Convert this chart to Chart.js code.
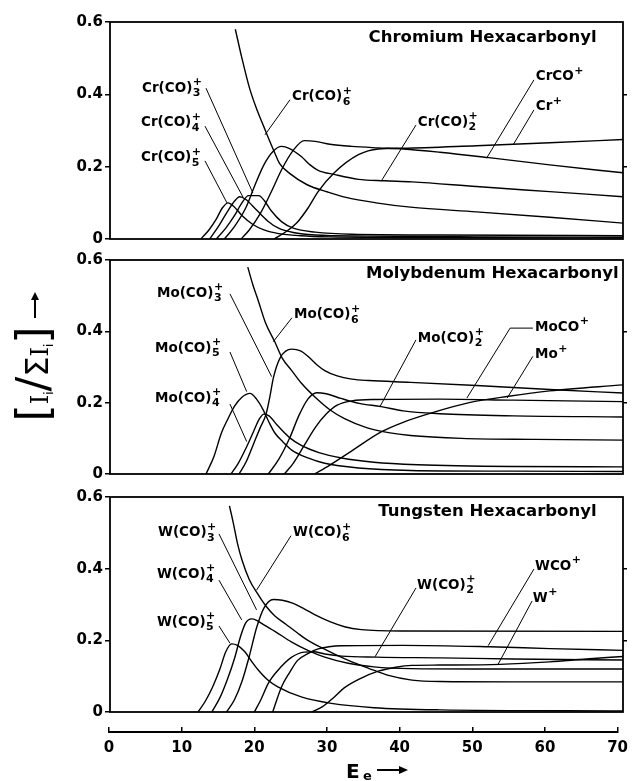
<!DOCTYPE html>
<html>
<head>
<meta charset="utf-8">
<script src="https://cdn.jsdelivr.net/npm/chart.js@4.4.1/dist/chart.umd.min.js"></script>
<style>
  html, body { margin: 0; padding: 0; background: #fff; }
  #wrap { position: relative; width: 635px; height: 781px; }
  #wrap canvas { position: absolute; left: 0; top: 0; }
</style>
</head>
<body>
<div id="wrap">
  <canvas id="cr" width="635" height="781"></canvas>
  <canvas id="mo" width="635" height="781"></canvas>
  <canvas id="w" width="635" height="781"></canvas>
  <canvas id="axis" width="635" height="781"></canvas>
</div>
<script>
// ion fraction I_i / sum(I_i) vs electron energy, [E, fraction] pairs
const xTicks = [0, 10, 20, 30, 40, 50, 60, 70];
const yTicks = [0, 0.2, 0.4, 0.6];

// Chromium
const cr6 = [[17.1,0.58],[18,0.50],[19,0.42],[20,0.36],[21,0.31],[21.6,0.28],[22.5,0.237],[23.1,0.21],[24.6,0.18],[26.9,0.15],[29.7,0.13],[32.2,0.115],[36.3,0.10],[41,0.088],[50,0.075],[60,0.06],[70,0.044]];
const cr5 = [[12.4,0],[13.5,0.025],[14.5,0.055],[15.3,0.085],[16.1,0.10],[16.9,0.09],[18,0.065],[19.5,0.04],[21,0.025],[23,0.015],[26,0.009],[30,0.006],[45,0.004],[70,0.003]];
const cr4 = [[13.6,0],[14.8,0.035],[16,0.075],[17,0.105],[17.7,0.117],[18.5,0.11],[20,0.08],[21.5,0.05],[23,0.03],[25,0.018],[28,0.011],[35,0.008],[50,0.006],[70,0.005]];
const cr3 = [[14.5,0],[15.8,0.03],[17,0.065],[18,0.1],[18.9,0.12],[20.3,0.12],[21.1,0.105],[22,0.078],[23.4,0.048],[25,0.03],[28,0.019],[33,0.013],[45,0.011],[70,0.009]];
const cr2 = [[15.6,0],[17,0.035],[18.5,0.085],[19.8,0.15],[21,0.205],[22.3,0.243],[23.4,0.256],[24.5,0.25],[26.1,0.228],[27.3,0.205],[28.4,0.19],[30.7,0.178],[33.9,0.165],[37.5,0.161],[41.2,0.158],[50,0.145],[60,0.131],[70,0.117]];
const crCO = [[17.9,0],[19,0.025],[20.5,0.07],[22,0.13],[23.5,0.195],[25,0.245],[26.5,0.272],[28,0.27],[30,0.262],[33,0.256],[36.6,0.252],[40,0.249],[45,0.24],[51.7,0.225],[60,0.205],[70,0.183]];
const crM = [[22.4,0],[24,0.02],[25.5,0.045],[27,0.085],[28.4,0.131],[30.6,0.183],[33.9,0.233],[36.6,0.249],[40,0.251],[50,0.258],[60,0.266],[70,0.275]];

// Molybdenum
const mo6 = [[18.8,0.58],[19.5,0.53],[20.2,0.488],[21.2,0.425],[22.5,0.37],[23.5,0.325],[24.8,0.29],[26.1,0.255],[28,0.215],[30,0.18],[32,0.155],[35,0.13],[38,0.116],[41,0.108],[48,0.1],[58,0.097],[70,0.095]];
const mo5 = [[13.1,0],[14.2,0.05],[15.2,0.115],[16.1,0.155],[17,0.19],[18,0.215],[19.1,0.226],[20,0.21],[20.9,0.18],[21.7,0.145],[22.5,0.115],[23.6,0.09],[24.8,0.067],[27,0.045],[29.3,0.03],[33.9,0.017],[41,0.01],[55,0.008],[70,0.007]];
const mo4 = [[16.5,0],[17.5,0.03],[18.5,0.07],[19.5,0.115],[20.4,0.155],[21,0.168],[21.7,0.163],[22.9,0.135],[24.5,0.102],[26.1,0.08],[28.5,0.06],[31.6,0.045],[36,0.033],[42,0.026],[55,0.021],[70,0.02]];
const mo3 = [[17.6,0],[18.6,0.035],[19.6,0.085],[20.5,0.13],[21.3,0.168],[21.8,0.215],[22.3,0.27],[23.2,0.325],[24.8,0.35],[26,0.345],[27,0.33],[28.3,0.305],[29.3,0.29],[31,0.275],[33,0.266],[35.3,0.262],[41,0.257],[50,0.248],[60,0.237],[70,0.227]];
const mo2 = [[21.6,0],[23,0.04],[24.5,0.1],[25.8,0.165],[27,0.21],[28.2,0.228],[29.5,0.225],[31.5,0.212],[34,0.198],[37,0.189],[40,0.177],[45,0.169],[55,0.163],[70,0.16]];
const moCO = [[23.8,0],[25,0.03],[26.5,0.08],[28,0.13],[29.5,0.168],[31,0.193],[33,0.205],[36,0.209],[45,0.21],[55,0.207],[70,0.203]];
const moM = [[27.9,0],[30,0.025],[33,0.065],[37,0.118],[40,0.145],[44,0.172],[49,0.2],[54.4,0.218],[60,0.233],[70,0.25]];

// Tungsten
const w6 = [[16.3,0.575],[16.8,0.53],[17.4,0.47],[18,0.425],[19,0.37],[20.2,0.328],[21.3,0.295],[22.5,0.268],[24,0.245],[25.5,0.222],[27,0.2],[29,0.178],[31,0.158],[33,0.14],[35.3,0.122],[38,0.102],[41.2,0.089],[45,0.085],[55,0.084],[70,0.084]];
const w5 = [[12,0],[13,0.03],[14,0.07],[15,0.12],[15.8,0.168],[16.6,0.19],[17.4,0.186],[18.4,0.168],[19.3,0.142],[20.2,0.118],[21.5,0.09],[22.9,0.07],[26.1,0.042],[30.2,0.024],[36,0.012],[45,0.006],[70,0.003]];
const w4 = [[13.9,0],[15,0.04],[16,0.09],[17,0.15],[17.8,0.21],[18.5,0.248],[19.3,0.26],[20,0.256],[21,0.243],[22.5,0.225],[24.8,0.195],[27,0.172],[29.3,0.153],[32.5,0.136],[36,0.126],[41,0.121],[50,0.12],[70,0.12]];
const w3 = [[15.9,0],[17,0.035],[18,0.085],[19,0.155],[20,0.235],[21,0.29],[22.3,0.314],[23.5,0.312],[25,0.303],[26.5,0.288],[28,0.271],[30,0.252],[32,0.238],[34.3,0.23],[40,0.226],[70,0.225]];
const w2 = [[19.7,0],[20.6,0.035],[21.6,0.08],[22.9,0.116],[24.8,0.153],[26.5,0.167],[27.8,0.168],[29.3,0.162],[31.6,0.156],[36.4,0.153],[45,0.151],[55,0.148],[70,0.145]];
const wCO = [[22.2,0],[23.4,0.07],[24.5,0.11],[25.6,0.144],[27,0.163],[28.4,0.176],[31.6,0.185],[40,0.186],[51.8,0.182],[60,0.177],[70,0.172]];
const wM = [[27.5,0],[29,0.015],[30.5,0.04],[32,0.068],[34,0.092],[36.6,0.114],[39,0.125],[41.2,0.13],[45,0.131],[53.2,0.133],[60,0.14],[65,0.148],[70,0.155]];

// ion labels: text anchor and leader line, in data units
const crLabels = [
  { main: 'Cr(CO)', sub: '3', sup: '+', at: [4.37, 0.417], lead: [[13.1, 0.417], [19.5, 0.127]] },
  { main: 'Cr(CO)', sub: '4', sup: '+', at: [4.23, 0.321], lead: [[12.96, 0.312], [18.15, 0.116]] },
  { main: 'Cr(CO)', sub: '5', sup: '+', at: [4.23, 0.224], lead: [[12.96, 0.216], [15.96, 0.10]] },
  { main: 'Cr(CO)', sub: '6', sup: '+', at: [24.83, 0.393], lead: [[24.56, 0.385], [21.15, 0.288]] },
  { main: 'Cr(CO)', sub: '2', sup: '+', at: [42.0, 0.323], lead: [[41.75, 0.315], [37.1, 0.163]] },
  { main: 'CrCO', sup: '+', at: [58.1, 0.448], lead: [[57.85, 0.44], [51.4, 0.224]] },
  { main: 'Cr', sup: '+', at: [58.1, 0.365], lead: [[57.85, 0.357], [55.0, 0.26]] }
];
const moLabels = [
  { main: 'Mo(CO)', sub: '3', sup: '+', at: [6.41, 0.507], lead: [[16.37, 0.505], [22.06, 0.273]] },
  { main: 'Mo(CO)', sub: '5', sup: '+', at: [6.14, 0.353], lead: [[16.37, 0.342], [18.65, 0.231]] },
  { main: 'Mo(CO)', sub: '4', sup: '+', at: [6.14, 0.213], lead: [[16.37, 0.196], [18.65, 0.091]] },
  { main: 'Mo(CO)', sub: '6', sup: '+', at: [25.1, 0.446], lead: [[24.83, 0.438], [22.28, 0.371]] },
  { main: 'Mo(CO)', sub: '2', sup: '+', at: [42.0, 0.381], lead: [[41.75, 0.376], [36.84, 0.189]] },
  { main: 'MoCO', sup: '+', at: [58.0, 0.412], lead: [[57.7, 0.409], [54.6, 0.409], [48.7, 0.213]] },
  { main: 'Mo', sup: '+', at: [58.0, 0.334], lead: [[57.7, 0.33], [54.2, 0.213]] }
];
const wLabels = [
  { main: 'W(CO)', sub: '3', sup: '+', at: [6.55, 0.50], lead: [[14.87, 0.497], [20.0, 0.285]] },
  { main: 'W(CO)', sub: '4', sup: '+', at: [6.41, 0.385], lead: [[14.87, 0.368], [17.97, 0.257]] },
  { main: 'W(CO)', sub: '5', sup: '+', at: [6.41, 0.251], lead: [[14.87, 0.24], [16.37, 0.192]] },
  { main: 'W(CO)', sub: '6', sup: '+', at: [24.97, 0.50], lead: [[24.7, 0.492], [20.0, 0.34]] },
  { main: 'W(CO)', sub: '2', sup: '+', at: [41.9, 0.354], lead: [[41.75, 0.346], [36.16, 0.154]] },
  { main: 'WCO', sup: '+', at: [58.0, 0.407], lead: [[57.85, 0.399], [51.6, 0.185]] },
  { main: 'W', sup: '+', at: [57.7, 0.318], lead: [[57.6, 0.31], [52.9, 0.131]] }
];

const FONT = '"DejaVu Sans", sans-serif';
const SERIF = '"DejaVu Serif", serif';
const PLOT_LEFT = 110, PLOT_RIGHT = 623;
const LEFT_W = 40, RIGHT_W = 5;

// frame box around each panel
const framePlugin = {
  id: 'frame',
  afterDatasetsDraw(chart) {
    const { ctx, chartArea: a } = chart;
    ctx.save();
    ctx.strokeStyle = '#000';
    ctx.lineWidth = 1.8;
    ctx.strokeRect(a.left, a.top, a.right - a.left, a.bottom - a.top);
    ctx.restore();
  }
};

// ion names with leader lines, plus the panel title
const labelPlugin = {
  id: 'ionLabels',
  afterDraw(chart, args, opts) {
    const ctx = chart.ctx;
    const xs = chart.scales.x, ys = chart.scales.y;
    ctx.save();
    ctx.fillStyle = '#000';
    ctx.strokeStyle = '#000';
    ctx.textAlign = 'left';
    ctx.textBaseline = 'middle';
    opts.items.forEach(it => {
      const x = xs.getPixelForValue(it.at[0]);
      const y = ys.getPixelForValue(it.at[1]);
      ctx.font = `bold 13.5px ${FONT}`;
      ctx.fillText(it.main, x, y);
      const w = ctx.measureText(it.main).width;
      ctx.font = `bold 11px ${FONT}`;
      if (it.sub) ctx.fillText(it.sub, x + w + 0.5, y + 5);
      if (it.sup) ctx.fillText(it.sup, x + w + 0.5, y - 6);
      ctx.lineWidth = 1;
      ctx.beginPath();
      it.lead.forEach((p, i) => {
        const px = xs.getPixelForValue(p[0]), py = ys.getPixelForValue(p[1]);
        if (i) ctx.lineTo(px, py); else ctx.moveTo(px, py);
      });
      ctx.stroke();
    });
    ctx.font = `bold 16.5px ${FONT}`;
    ctx.textAlign = 'right';
    ctx.fillText(opts.title, xs.getPixelForValue(opts.titleAt[0]), ys.getPixelForValue(opts.titleAt[1]));
    ctx.restore();
  }
};

// rotated y axis label, drawn once beside the middle panel
const yLabelPlugin = {
  id: 'ylabel',
  afterDraw(chart) {
    const ctx = chart.ctx;
    ctx.save();
    ctx.translate(38, 374);
    ctx.rotate(-Math.PI / 2);
    ctx.fillStyle = '#000';
    ctx.textBaseline = 'alphabetic';
    const parts = [['[', 44, 0, FONT], ['I', 24, 0, SERIF], ['i', 12, 5, FONT], ['/', 44, 0, FONT],
                   ['Σ', 32, 0, FONT], ['I', 24, 0, SERIF], ['i', 12, 5, FONT], [']', 44, 0, FONT]];
    let total = 0;
    parts.forEach(p => { ctx.font = `${p[1]}px ${p[3]}`; p.w = ctx.measureText(p[0]).width; total += p.w; });
    let x = -total / 2;
    parts.forEach(p => { ctx.font = `${p[1]}px ${p[3]}`; ctx.fillText(p[0], x, 10 + p[2]); x += p.w; });
    ctx.strokeStyle = '#000';
    ctx.lineWidth = 2;
    ctx.beginPath(); ctx.moveTo(56, -3); ctx.lineTo(76, -3); ctx.stroke();
    ctx.beginPath(); ctx.moveTo(82, -3); ctx.lineTo(74, -7); ctx.lineTo(74, 1); ctx.closePath(); ctx.fill();
    ctx.restore();
  }
};

// "Ee ->" under the energy axis
const eLabelPlugin = {
  id: 'elabel',
  afterDraw(chart) {
    const ctx = chart.ctx;
    ctx.save();
    ctx.fillStyle = '#000';
    ctx.textBaseline = 'alphabetic';
    ctx.font = `bold 20px ${FONT}`;
    ctx.fillText('E', 346, 778);
    ctx.font = `bold 13px ${FONT}`;
    ctx.fillText('e', 363, 780);
    ctx.strokeStyle = '#000';
    ctx.lineWidth = 2;
    ctx.beginPath(); ctx.moveTo(377, 770); ctx.lineTo(400, 770); ctx.stroke();
    ctx.beginPath(); ctx.moveTo(408, 770); ctx.lineTo(399, 766); ctx.lineTo(399, 774); ctx.closePath(); ctx.fill();
    ctx.restore();
  }
};

function toPoints(arr) {
  return arr.map(p => ({ x: p[0], y: p[1] }));
}

function panel(id, series, labels, title, titleAt, top, bottom, extra) {
  return new Chart(document.getElementById(id), {
    type: 'line',
    data: {
      datasets: series.map(s => ({ data: toPoints(s), borderColor: '#000', borderWidth: 1.4, pointRadius: 0, fill: false, cubicInterpolationMode: 'monotone' }))
    },
    options: {
      responsive: false,
      animation: false,
      events: [],
      layout: { padding: { left: PLOT_LEFT - LEFT_W, right: 635 - PLOT_RIGHT - RIGHT_W, top: top, bottom: 781 - bottom } },
      plugins: {
        legend: { display: false },
        tooltip: { enabled: false },
        ionLabels: { items: labels, title: title, titleAt: titleAt }
      },
      scales: {
        x: { type: 'linear', min: 0, max: 70, display: false },
        y: {
          min: 0, max: 0.6, position: 'left',
          afterFit(s) { s.width = LEFT_W; },
          afterBuildTicks(s) { s.ticks = yTicks.map(v => ({ value: v })); },
          ticks: { callback: v => v === 0 ? '0' : v.toFixed(1), color: '#000', padding: 2, font: { family: FONT, size: 15, weight: 'bold' } },
          grid: { drawOnChartArea: false, drawTicks: true, tickLength: 5, color: '#000', lineWidth: 1.5 },
          border: { display: false }
        },
        yr: {
          min: 0, max: 0.6, position: 'right',
          afterFit(s) { s.width = RIGHT_W; },
          afterBuildTicks(s) { s.ticks = [0.2, 0.4].map(v => ({ value: v })); },
          ticks: { display: false },
          grid: { drawOnChartArea: false, drawTicks: true, tickLength: 4, color: '#000', lineWidth: 1.5 },
          border: { display: false }
        }
      }
    },
    plugins: [framePlugin, labelPlugin].concat(extra || [])
  });
}

panel('cr', [cr6, cr5, cr4, cr3, cr2, crCO, crM], crLabels, 'Chromium Hexacarbonyl', [66.4, 0.556], 22, 239);
panel('mo', [mo6, mo5, mo4, mo3, mo2, moCO, moM], moLabels, 'Molybdenum Hexacarbonyl', [69.4, 0.561], 260, 474, [yLabelPlugin]);
panel('w', [w6, w5, w4, w3, w2, wCO, wM], wLabels, 'Tungsten Hexacarbonyl', [66.4, 0.558], 497, 712);

// separate energy axis below the bottom panel
const AXIS_H = 30;
new Chart(document.getElementById('axis'), {
  type: 'scatter',
  data: { datasets: [] },
  options: {
    responsive: false,
    animation: false,
    events: [],
    layout: { padding: { left: 109, right: 635 - 622, top: 727, bottom: 781 - 732 - AXIS_H } },
    plugins: { legend: { display: false }, tooltip: { enabled: false } },
    scales: {
      x: {
        type: 'linear', min: 0, max: 70,
        afterFit(s) { s.height = AXIS_H; },
        afterBuildTicks(s) { s.ticks = xTicks.map(v => ({ value: v })); },
        ticks: { color: '#000', padding: 7, font: { family: FONT, size: 15, weight: 'bold' } },
        grid: { drawOnChartArea: true, drawTicks: false, color: '#000', lineWidth: 1.5 },
        border: { display: true, color: '#000', width: 2 }
      },
      y: { display: false, min: 0, max: 1 }
    }
  },
  plugins: [eLabelPlugin]
});
</script>
</body>
</html>
